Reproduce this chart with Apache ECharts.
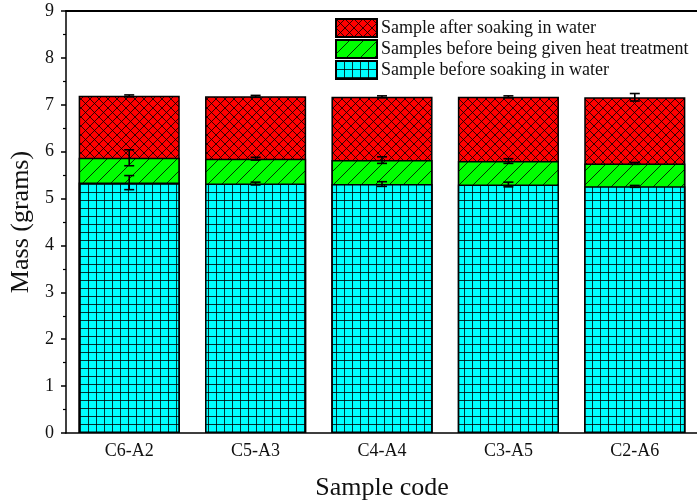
<!DOCTYPE html>
<html>
<head>
<meta charset="utf-8">
<script src="https://cdn.jsdelivr.net/npm/echarts@6/dist/echarts.min.js"></script>
<style>html,body{margin:0;padding:0;background:#fff}#c{width:697px;height:502px}</style>
</head>
<body>
<div id="c"></div>
<script>
const categories = ['C6-A2', 'C5-A3', 'C4-A4', 'C3-A5', 'C2-A6'];
const afterSoaking = [7.19, 7.18, 7.17, 7.17, 7.16];
const beforeHeat = [5.87, 5.85, 5.82, 5.80, 5.75];
const beforeSoaking = [5.34, 5.32, 5.31, 5.30, 5.26];
const errAfterSoaking = [0.02, 0.02, 0.02, 0.02, 0.08];
const errBeforeHeat = [0.17, 0.03, 0.07, 0.05, 0.02];
const errBeforeSoaking = [0.15, 0.03, 0.05, 0.05, 0.02];
const yTicks = [0, 1, 2, 3, 4, 5, 6, 7, 8, 9];

const names = ['Sample after soaking in water', 'Samples before being given heat treatment', 'Sample before soaking in water'];
const FONT = '"Liberation Serif", "DejaVu Serif", serif';

function makePattern(size, bg, draw) {
  const c = document.createElement('canvas');
  c.width = size; c.height = size;
  const ctx = c.getContext('2d');
  ctx.fillStyle = bg; ctx.fillRect(0, 0, size, size);
  ctx.strokeStyle = 'rgba(0,0,0,0.8)';
  ctx.lineWidth = 1;
  ctx.beginPath();
  draw(ctx, size);
  ctx.stroke();
  return c;
}
const redPat = makePattern(9, '#ff0000', (ctx, s) => {
  ctx.moveTo(-1, -1); ctx.lineTo(s + 1, s + 1);
  ctx.moveTo(s + 1, -1); ctx.lineTo(-1, s + 1);
});
const greenPat = makePattern(14, '#00ff00', (ctx, s) => {
  ctx.moveTo(-1, s + 1); ctx.lineTo(s + 1, -1);
  ctx.moveTo(s - 1, s + 1); ctx.lineTo(s + 1, s - 1);
  ctx.moveTo(-1, 1); ctx.lineTo(1, -1);
});
const cyanPat = makePattern(8, '#00ffff', (ctx, s) => {
  ctx.moveTo(0.5, 0); ctx.lineTo(0.5, s);
  ctx.moveTo(0, 0.5); ctx.lineTo(s, 0.5);
});

function barSeries(name, data, pat) {
  return {
    name: name, type: 'bar', data: data, barGap: '-100%', barCategoryGap: '20%',
    itemStyle: { color: { image: pat, repeat: 'repeat' }, borderColor: '#000', borderWidth: 1.5 },
    silent: true
  };
}
function errData(vals, errs) { return vals.map((v, i) => [i, v, errs[i]]); }
function errSeries(vals, errs) {
  return {
    type: 'custom', xAxisIndex: 0, yAxisIndex: 0, silent: true, z: 10,
    data: errData(vals, errs),
    renderItem: function (params, api) {
      const i = api.value(0), v = api.value(1), e = api.value(2);
      const hi = api.coord([i, v + e]);
      const lo = api.coord([i, v - e]);
      const w = 5;
      const st = { stroke: '#000', lineWidth: 1.6 };
      return {
        type: 'group', children: [
          { type: 'line', shape: { x1: hi[0], y1: hi[1], x2: lo[0], y2: lo[1] }, style: st },
          { type: 'line', shape: { x1: hi[0] - w, y1: hi[1], x2: hi[0] + w, y2: hi[1] }, style: st },
          { type: 'line', shape: { x1: lo[0] - w, y1: lo[1], x2: lo[0] + w, y2: lo[1] }, style: st }
        ]
      };
    }
  };
}

const chart = echarts.init(document.getElementById('c'), null, { renderer: 'canvas' });
chart.setOption({
  animation: false,
  backgroundColor: '#fff',
  grid: { left: 66, top: 11, width: 632, height: 422, outerBoundsMode: 'none', containLabel: false },
  legend: {
    orient: 'vertical', left: 330, top: 13, itemWidth: 41, itemHeight: 18, itemGap: 1,
    icon: 'rect', data: names, selectedMode: false,
    itemStyle: { borderWidth: 2, borderColor: '#000' },
    textStyle: { fontFamily: FONT, fontSize: 18, color: '#111', padding: [0, 0, 0, -1] }
  },
  xAxis: [{
    type: 'category', data: categories, position: 'bottom',
    axisLine: { lineStyle: { color: '#000', width: 1.5 } },
    axisTick: { alignWithLabel: true, length: 6, lineStyle: { color: '#000', width: 1.5 } },
    axisLabel: { fontFamily: FONT, fontSize: 18, color: '#111', margin: 9 },
    name: 'Sample code', nameLocation: 'middle', nameGap: 42,
    nameTextStyle: { fontFamily: FONT, fontSize: 26, color: '#111' }
  }, {
    type: 'category', data: categories, position: 'top',
    axisLine: { lineStyle: { color: '#000', width: 2 } },
    axisTick: { show: false }, axisLabel: { show: false }
  }],
  yAxis: {
    type: 'value', min: yTicks[0], max: yTicks[yTicks.length - 1], interval: 1,
    axisLine: { show: true, lineStyle: { color: '#000', width: 1.5 } },
    axisTick: { show: true, length: 5, lineStyle: { color: '#000', width: 1.5 } },
    minorTick: { show: true, splitNumber: 2, length: 3, lineStyle: { color: '#000', width: 1.2 } },
    splitLine: { show: false },
    axisLabel: { fontFamily: FONT, fontSize: 18, color: '#111', margin: 12 },
    name: 'Mass (grams)', nameLocation: 'middle', nameGap: 31,
    nameTextStyle: { fontFamily: FONT, fontSize: 26, color: '#111' }
  },
  series: [
    barSeries(names[0], afterSoaking, redPat),
    barSeries(names[1], beforeHeat, greenPat),
    barSeries(names[2], beforeSoaking, cyanPat),
    errSeries(afterSoaking, errAfterSoaking),
    errSeries(beforeHeat, errBeforeHeat),
    errSeries(beforeSoaking, errBeforeSoaking)
  ]
});
</script>
</body>
</html>
